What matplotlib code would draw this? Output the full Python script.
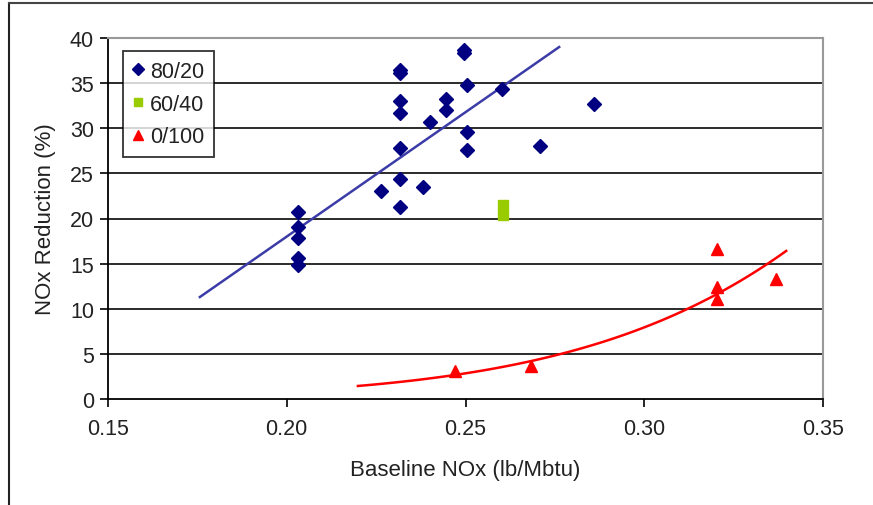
import numpy as np
import matplotlib
matplotlib.use("Agg")
import matplotlib.pyplot as plt
from matplotlib.lines import Line2D

plt.rcParams['font.family'] = ['Liberation Sans', 'DejaVu Sans']

# 80/20 blend
x_8020 = [0.2031, 0.2031, 0.2031, 0.2031, 0.2031,
          0.2317, 0.2317, 0.2317, 0.2317, 0.2317, 0.2317, 0.2317,
          0.2264, 0.2382, 0.2401, 0.2445, 0.2445,
          0.2496, 0.2496, 0.2503, 0.2503, 0.2503,
          0.2602, 0.2708, 0.2859]
y_8020 = [20.7, 19.1, 17.8, 15.6, 14.9,
          36.5, 36.1, 33.0, 31.7, 27.8, 24.4, 21.3,
          23.0, 23.5, 30.7, 33.2, 32.0,
          38.7, 38.3, 34.8, 29.6, 27.6,
          34.3, 28.0, 32.7]
# 60/40 blend
x_6040 = [0.2605, 0.2605]
y_6040 = [21.5, 20.4]
# 0/100 blend
x_0100 = [0.2471, 0.2682, 0.3204, 0.3204, 0.3204, 0.3368]
y_0100 = [3.1, 3.7, 16.6, 12.4, 11.1, 13.3]

# trendlines
trend_8020_x = [0.1757, 0.2762]
trend_8020_y = [11.3, 39.0]          # linear
trend_0100_x = [0.2199, 0.2317, 0.2471, 0.2682, 0.2792, 0.3002, 0.3109, 0.3204, 0.3342, 0.3397]
trend_0100_y = [1.44, 1.84, 2.88, 4.06, 5.1, 7.76, 9.97, 12.2, 14.96, 15.96]

xticks = [0.15, 0.20, 0.25, 0.30, 0.35]
yticks = [0, 5, 10, 15, 20, 25, 30, 35, 40]

fig = plt.figure(figsize=(8.73, 5.06), dpi=100)
ax = fig.add_axes([108/873, 1-400/506, 715/873, 361/506])

# gridlines
for yv in yticks[1:-1]:
    ax.axhline(yv, color='#1a1a1a', lw=1.3, zorder=1)

# linear trend
ax.plot(trend_8020_x, trend_8020_y, color='#3c3ca8', lw=1.8, zorder=2)

# smooth trend curve through read points (fitted in log space)
c2 = np.polyfit(trend_0100_x, np.log(trend_0100_y), 2)
tx2 = np.linspace(trend_0100_x[0], trend_0100_x[-1], 100)
ax.plot(tx2, np.exp(np.polyval(c2, tx2)), color='#ff0000', lw=1.8, zorder=2)

ax.plot(x_8020, y_8020, linestyle='none', marker='D', ms=6.8, color='#000080',
        mec='#000080', label='80/20', zorder=3)
ax.plot(x_6040, y_6040, linestyle='none', marker='s', ms=6.5, color='#99cc00',
        mec='#99cc00', label='60/40', zorder=3)
ax.plot(x_0100, y_0100, linestyle='none', marker='^', ms=8, color='#ff0000',
        mec='#ff0000', label='0/100', zorder=3)

ax.set_xlim(0.15, 0.35)
ax.set_ylim(0, 40)
ax.set_xticks(xticks)
ax.set_xticklabels([f'{v:.2f}' for v in xticks])
ax.set_yticks(yticks)
ax.tick_params(axis='both', direction='out', length=6, width=1.2, color='black',
               labelsize=15.5, labelcolor='#222222')
ax.tick_params(axis='x', pad=8)
ax.tick_params(axis='y', pad=4)

for s in ['left', 'bottom']:
    ax.spines[s].set_color('black')
    ax.spines[s].set_linewidth(1.3)
for s in ['top', 'right']:
    ax.spines[s].set_color('#999999')
    ax.spines[s].set_linewidth(1.5)

ax.set_xlabel('Baseline NOx (lb/Mbtu)', fontsize=16, color='#222222', labelpad=14)
ax.set_ylabel('NOx Reduction (%)', fontsize=16, color='#222222', labelpad=10)

leg = ax.legend(loc='upper left', bbox_to_anchor=((123-108)/715, (400-52)/361),
                frameon=True, fancybox=False, fontsize=15.5, handlelength=0.5,
                handletextpad=0.3, borderpad=0.45, labelspacing=0.55,
                borderaxespad=0, markerscale=0.85)
leg.get_frame().set_edgecolor('black')
leg.get_frame().set_linewidth(1.3)
for t in leg.get_texts():
    t.set_color('#222222')

# figure border (left and top)
fig.add_artist(Line2D([9/873, 9/873], [0, 1-4/506], color='#222222', lw=1.5,
                      transform=fig.transFigure))
fig.add_artist(Line2D([9/873, 1], [1-4/506, 1-4/506], color='#444444', lw=1.5,
                      transform=fig.transFigure))

fig.savefig('out.png', dpi=100)
